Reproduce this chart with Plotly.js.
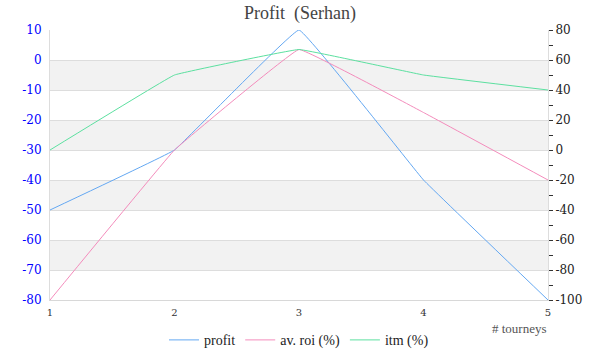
<!DOCTYPE html>
<html><head><meta charset="utf-8">
<script src="https://cdn.plot.ly/plotly-3.0.1.min.js"></script>
<style>html,body{margin:0;padding:0;background:#fff}#c{width:600px;height:360px}</style>
</head><body><div id="c"></div>
<script>
const tourneys = [1, 2, 3, 4, 5];
const profit = [-50, -30, 10, -40, -80];
const avRoi = [-100, 0, 67, 25, -20];
const itm = [0, 50, 67, 50, 40];
const leftTicks = [10, 0, -10, -20, -30, -40, -50, -60, -70, -80];
const rightTicks = [80, 60, 40, 20, 0, -20, -40, -60, -80, -100];
const bands = [[-10, 0], [-30, -20], [-50, -40], [-70, -60]];

const serif = "Liberation Serif";
const dserif = "DejaVu Serif";
const lineShape = {shape: 'spline', smoothing: 0.15, width: 1};

const traces = [
  {x: tourneys, y: profit, name: 'profit', mode: 'lines', yaxis: 'y', line: Object.assign({color: '#64a8f2'}, lineShape)},
  {x: tourneys, y: avRoi, name: 'av. roi (%)', mode: 'lines', yaxis: 'y2', line: Object.assign({color: '#f48cbc'}, lineShape)},
  {x: tourneys, y: itm, name: 'itm (%)', mode: 'lines', yaxis: 'y2', line: Object.assign({color: '#5ce0a0'}, lineShape)}
];

const shapes = bands.map(b => ({type: 'rect', xref: 'paper', yref: 'y', x0: 0, x1: 1, y0: b[0], y1: b[1],
  fillcolor: '#f2f2f2', line: {width: 0}, layer: 'below'}));

const layout = {
  width: 600, height: 360,
  margin: {l: 50, r: 52, t: 30, b: 60, autoexpand: false},
  paper_bgcolor: '#fff', plot_bgcolor: '#fff',
  font: {family: serif, color: '#333'},
  title: {text: 'Profit  (Serhan)', x: 0.5, xanchor: 'center', y: 0.965, yanchor: 'middle',
    font: {family: serif, size: 18, color: '#444'}},
  showlegend: true,
  legend: {orientation: 'h', x: 0.5, xanchor: 'center', y: -0.09, yanchor: 'top',
    font: {family: serif, size: 14, color: '#222'}, itemwidth: 30},
  xaxis: {range: [1, 5], tickvals: tourneys, ticktext: tourneys.map(String),
    showgrid: false, zeroline: false, showline: true, linecolor: '#d8d8d8', linewidth: 1,
    ticks: 'outside', ticklen: 3, tickcolor: 'rgba(0,0,0,0)',
    tickfont: {family: dserif, size: 10, color: '#333'}},
  yaxis: {range: [-80, 10], tickvals: leftTicks, ticktext: leftTicks.map(String),
    showgrid: true, gridcolor: '#dddddd', gridwidth: 1, zeroline: false,
    showline: true, linecolor: '#dddddd', ticks: 'outside', ticklen: 5, tickcolor: 'rgba(0,0,0,0)',
    tickfont: {family: dserif, size: 12, color: '#0000ff'}},
  yaxis2: {range: [-100, 80], overlaying: 'y', side: 'right', tickvals: rightTicks,
    ticktext: rightTicks.map(String), showgrid: false, zeroline: false,
    showline: true, linecolor: '#dddddd', ticks: 'outside', ticklen: 4, tickcolor: '#333',
    minor: {dtick: 10, tick0: 0, ticks: 'outside', ticklen: 4, tickcolor: '#333', showgrid: false},
    tickfont: {family: dserif, size: 12, color: '#222'}},
  shapes: shapes,
  annotations: [{text: '# tourneys', xref: 'paper', yref: 'paper', x: 1.003, y: -0.105,
    xanchor: 'right', yanchor: 'middle', showarrow: false,
    font: {family: serif, size: 13, color: '#555'}}]
};

Plotly.newPlot('c', traces, layout, {displayModeBar: false, staticPlot: true});
</script>
</body></html>
